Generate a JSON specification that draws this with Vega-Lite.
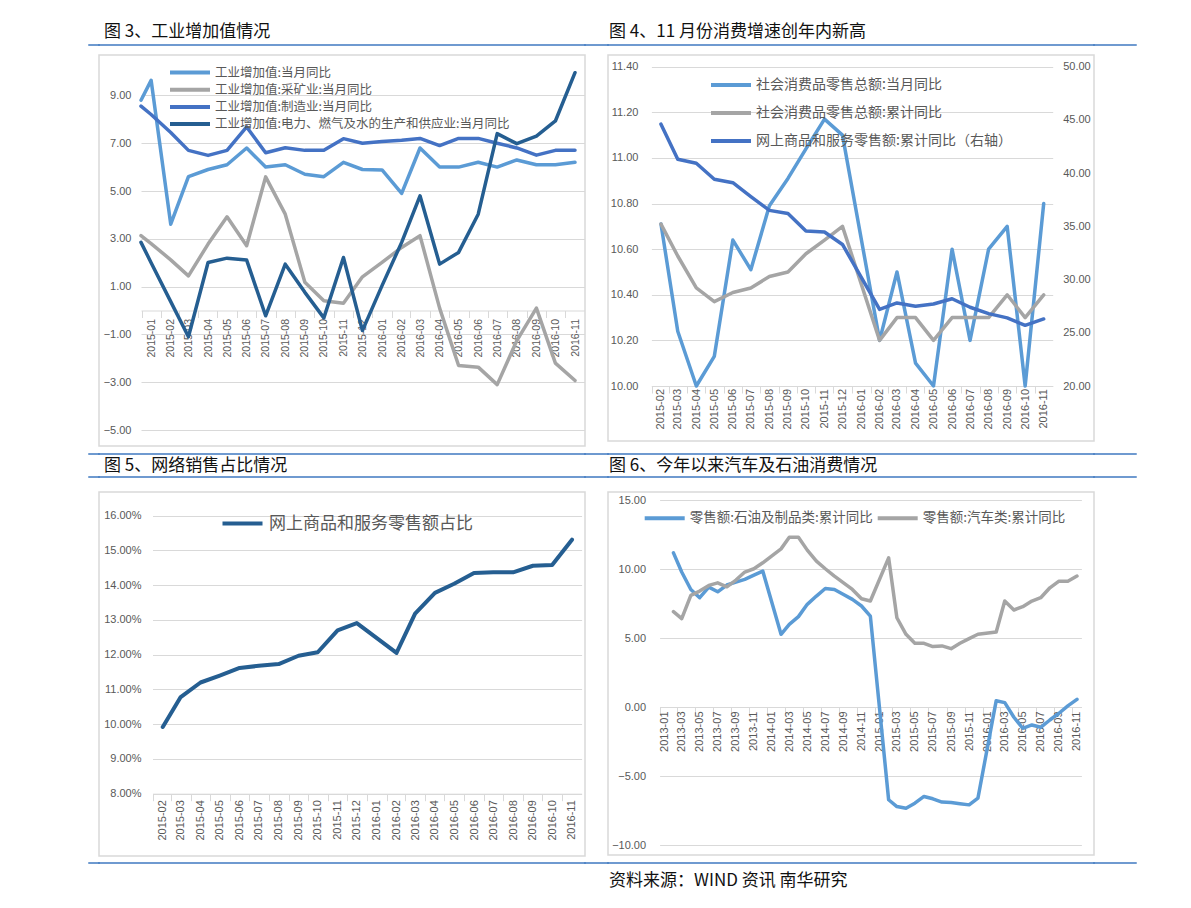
{
"$schema":"https://vega.github.io/schema/vega-lite/v6.json",
"background":"white",
"padding":{"left":88,"top":21,"right":0,"bottom":0},
"config":{
 "view":{"stroke":null},
 "font":"Liberation Sans",
 "axis":{"labelColor":"#595959","labelFont":"Liberation Sans","labelFontSize":11,"gridColor":"#d9d9d9","gridWidth":1,"domainColor":"#d9d9d9","domainWidth":1,"tickColor":"#d9d9d9","labelFlush":false,"labelOverlap":false},
 "legend":{"labelFont":"Noto Sans CJK SC","labelColor":"#595959","symbolType":"M-4,0H4","symbolSize":100,"symbolStrokeWidth":4,"labelOffset":18,"labelLimit":800,"padding":0},
 "title":{"anchor":"start","font":"Noto Sans CJK SC","fontSize":17,"fontWeight":"normal","color":"#111111","offset":-1.5,"frame":"group"},
 "line":{"strokeJoin":"round","strokeCap":"round","invalid":"filter"}
},
"datasets":{
 "fig3":[
  {"月份":"2014-12-16","工业增加值:当月同比":8.8,"工业增加值:采矿业:当月同比":3.13,"工业增加值:制造业:当月同比":8.55,"工业增加值:电力、燃气及水的生产和供应业:当月同比":2.85},
  {"月份":"2015-01-01","工业增加值:当月同比":9.63,"工业增加值:采矿业:当月同比":2.8,"工业增加值:制造业:当月同比":8.2,"工业增加值:电力、燃气及水的生产和供应业:当月同比":2.0},
  {"月份":"2015-02-01","工业增加值:当月同比":3.61,"工业增加值:采矿业:当月同比":2.12,"工业增加值:制造业:当月同比":7.45,"工业增加值:电力、燃气及水的生产和供应业:当月同比":0.37},
  {"月份":"2015-03-01","工业增加值:当月同比":5.6,"工业增加值:采矿业:当月同比":1.45,"工业增加值:制造业:当月同比":6.7,"工业增加值:电力、燃气及水的生产和供应业:当月同比":-1.1},
  {"月份":"2015-04-01","工业增加值:当月同比":5.9,"工业增加值:采矿业:当月同比":2.78,"工业增加值:制造业:当月同比":6.49,"工业增加值:电力、燃气及水的生产和供应业:当月同比":2.01},
  {"月份":"2015-05-01","工业增加值:当月同比":6.1,"工业增加值:采矿业:当月同比":3.92,"工业增加值:制造业:当月同比":6.7,"工业增加值:电力、燃气及水的生产和供应业:当月同比":2.19},
  {"月份":"2015-06-01","工业增加值:当月同比":6.8,"工业增加值:采矿业:当月同比":2.71,"工业增加值:制造业:当月同比":7.68,"工业增加值:电力、燃气及水的生产和供应业:当月同比":2.11},
  {"月份":"2015-07-01","工业增加值:当月同比":6.0,"工业增加值:采矿业:当月同比":5.59,"工业增加值:制造业:当月同比":6.6,"工业增加值:电力、燃气及水的生产和供应业:当月同比":-0.22},
  {"月份":"2015-08-01","工业增加值:当月同比":6.1,"工业增加值:采矿业:当月同比":4.03,"工业增加值:制造业:当月同比":6.81,"工业增加值:电力、燃气及水的生产和供应业:当月同比":1.94},
  {"月份":"2015-09-01","工业增加值:当月同比":5.7,"工业增加值:采矿业:当月同比":1.18,"工业增加值:制造业:当月同比":6.7,"工业增加值:电力、燃气及水的生产和供应业:当月同比":0.76},
  {"月份":"2015-10-01","工业增加值:当月同比":5.6,"工业增加值:采矿业:当月同比":0.41,"工业增加值:制造业:当月同比":6.7,"工业增加值:电力、燃气及水的生产和供应业:当月同比":-0.31},
  {"月份":"2015-11-01","工业增加值:当月同比":6.2,"工业增加值:采矿业:当月同比":0.3,"工业增加值:制造业:当月同比":7.19,"工业增加值:电力、燃气及水的生产和供应业:当月同比":2.22},
  {"月份":"2015-12-01","工业增加值:当月同比":5.9,"工业增加值:采矿业:当月同比":1.41,"工业增加值:制造业:当月同比":7.0,"工业增加值:电力、燃气及水的生产和供应业:当月同比":-0.84},
  {"月份":"2016-01-01","工业增加值:当月同比":5.88,"工业增加值:采矿业:当月同比":2.01,"工业增加值:制造业:当月同比":7.07,"工业增加值:电力、燃气及水的生产和供应业:当月同比":1.04},
  {"月份":"2016-02-01","工业增加值:当月同比":4.9,"工业增加值:采矿业:当月同比":2.64,"工业增加值:制造业:当月同比":7.12,"工业增加值:电力、燃气及水的生产和供应业:当月同比":2.85},
  {"月份":"2016-03-01","工业增加值:当月同比":6.8,"工业增加值:采矿业:当月同比":3.13,"工业增加值:制造业:当月同比":7.2,"工业增加值:电力、燃气及水的生产和供应业:当月同比":4.8},
  {"月份":"2016-04-01","工业增加值:当月同比":6.0,"工业增加值:采矿业:当月同比":0.1,"工业增加值:制造业:当月同比":6.9,"工业增加值:电力、燃气及水的生产和供应业:当月同比":1.94},
  {"月份":"2016-05-01","工业增加值:当月同比":6.0,"工业增加值:采矿业:当月同比":-2.3,"工业增加值:制造业:当月同比":7.2,"工业增加值:电力、燃气及水的生产和供应业:当月同比":2.43},
  {"月份":"2016-06-01","工业增加值:当月同比":6.2,"工业增加值:采矿业:当月同比":-2.37,"工业增加值:制造业:当月同比":7.2,"工业增加值:电力、燃气及水的生产和供应业:当月同比":4.03},
  {"月份":"2016-07-01","工业增加值:当月同比":6.0,"工业增加值:采矿业:当月同比":-3.1,"工业增加值:制造业:当月同比":7.0,"工业增加值:电力、燃气及水的生产和供应业:当月同比":7.4},
  {"月份":"2016-08-01","工业增加值:当月同比":6.3,"工业增加值:采矿业:当月同比":-1.26,"工业增加值:制造业:当月同比":6.8,"工业增加值:电力、燃气及水的生产和供应业:当月同比":6.98},
  {"月份":"2016-09-01","工业增加值:当月同比":6.1,"工业增加值:采矿业:当月同比":0.1,"工业增加值:制造业:当月同比":6.5,"工业增加值:电力、燃气及水的生产和供应业:当月同比":7.3},
  {"月份":"2016-10-01","工业增加值:当月同比":6.1,"工业增加值:采矿业:当月同比":-2.2,"工业增加值:制造业:当月同比":6.7,"工业增加值:电力、燃气及水的生产和供应业:当月同比":7.93},
  {"月份":"2016-11-01","工业增加值:当月同比":6.2,"工业增加值:采矿业:当月同比":-2.93,"工业增加值:制造业:当月同比":6.7,"工业增加值:电力、燃气及水的生产和供应业:当月同比":9.95}
 ],
 "fig4":[
  {"月份":"2015-02-01","社会消费品零售总额:当月同比":10.71,"社会消费品零售总额:累计同比":10.71,"网上商品和服务零售额:累计同比（右轴）":44.6},
  {"月份":"2015-03-01","社会消费品零售总额:当月同比":10.24,"社会消费品零售总额:累计同比":10.57,"网上商品和服务零售额:累计同比（右轴）":41.3},
  {"月份":"2015-04-01","社会消费品零售总额:当月同比":10.0,"社会消费品零售总额:累计同比":10.43,"网上商品和服务零售额:累计同比（右轴）":40.93},
  {"月份":"2015-05-01","社会消费品零售总额:当月同比":10.13,"社会消费品零售总额:累计同比":10.37,"网上商品和服务零售额:累计同比（右轴）":39.43},
  {"月份":"2015-06-01","社会消费品零售总额:当月同比":10.64,"社会消费品零售总额:累计同比":10.41,"网上商品和服务零售额:累计同比（右轴）":39.1},
  {"月份":"2015-07-01","社会消费品零售总额:当月同比":10.51,"社会消费品零售总额:累计同比":10.43,"网上商品和服务零售额:累计同比（右轴）":37.8},
  {"月份":"2015-08-01","社会消费品零售总额:当月同比":10.79,"社会消费品零售总额:累计同比":10.48,"网上商品和服务零售额:累计同比（右轴）":36.5},
  {"月份":"2015-09-01","社会消费品零售总额:当月同比":10.91,"社会消费品零售总额:累计同比":10.5,"网上商品和服务零售额:累计同比（右轴）":36.2},
  {"月份":"2015-10-01","社会消费品零售总额:当月同比":11.04,"社会消费品零售总额:累计同比":10.58,"网上商品和服务零售额:累计同比（右轴）":34.57},
  {"月份":"2015-11-01","社会消费品零售总额:当月同比":11.17,"社会消费品零售总额:累计同比":10.64,"网上商品和服务零售额:累计同比（右轴）":34.47},
  {"月份":"2015-12-01","社会消费品零售总额:当月同比":11.1,"社会消费品零售总额:累计同比":10.7,"网上商品和服务零售额:累计同比（右轴）":33.3},
  {"月份":"2016-02-01","社会消费品零售总额:当月同比":10.2,"社会消费品零售总额:累计同比":10.2,"网上商品和服务零售额:累计同比（右轴）":27.2},
  {"月份":"2016-03-01","社会消费品零售总额:当月同比":10.5,"社会消费品零售总额:累计同比":10.3,"网上商品和服务零售额:累计同比（右轴）":27.8},
  {"月份":"2016-04-01","社会消费品零售总额:当月同比":10.1,"社会消费品零售总额:累计同比":10.3,"网上商品和服务零售额:累计同比（右轴）":27.5},
  {"月份":"2016-05-01","社会消费品零售总额:当月同比":10.0,"社会消费品零售总额:累计同比":10.2,"网上商品和服务零售额:累计同比（右轴）":27.7},
  {"月份":"2016-06-01","社会消费品零售总额:当月同比":10.6,"社会消费品零售总额:累计同比":10.3,"网上商品和服务零售额:累计同比（右轴）":28.2},
  {"月份":"2016-07-01","社会消费品零售总额:当月同比":10.2,"社会消费品零售总额:累计同比":10.3,"网上商品和服务零售额:累计同比（右轴）":27.4},
  {"月份":"2016-08-01","社会消费品零售总额:当月同比":10.6,"社会消费品零售总额:累计同比":10.3,"网上商品和服务零售额:累计同比（右轴）":26.8},
  {"月份":"2016-09-01","社会消费品零售总额:当月同比":10.7,"社会消费品零售总额:累计同比":10.4,"网上商品和服务零售额:累计同比（右轴）":26.4},
  {"月份":"2016-10-01","社会消费品零售总额:当月同比":10.0,"社会消费品零售总额:累计同比":10.3,"网上商品和服务零售额:累计同比（右轴）":25.7},
  {"月份":"2016-11-01","社会消费品零售总额:当月同比":10.8,"社会消费品零售总额:累计同比":10.4,"网上商品和服务零售额:累计同比（右轴）":26.3}
 ],
 "fig5":[
  {"月份":"2015-02-01","网上商品和服务零售额占比":0.0992},
  {"月份":"2015-03-01","网上商品和服务零售额占比":0.1078},
  {"月份":"2015-04-01","网上商品和服务零售额占比":0.112},
  {"月份":"2015-05-01","网上商品和服务零售额占比":0.114},
  {"月份":"2015-06-01","网上商品和服务零售额占比":0.1162},
  {"月份":"2015-07-01","网上商品和服务零售额占比":0.1168},
  {"月份":"2015-08-01","网上商品和服务零售额占比":0.1173},
  {"月份":"2015-09-01","网上商品和服务零售额占比":0.1197},
  {"月份":"2015-10-01","网上商品和服务零售额占比":0.1207},
  {"月份":"2015-11-01","网上商品和服务零售额占比":0.127},
  {"月份":"2015-12-01","网上商品和服务零售额占比":0.1291},
  {"月份":"2016-02-01","网上商品和服务零售额占比":0.1205},
  {"月份":"2016-03-01","网上商品和服务零售额占比":0.1318},
  {"月份":"2016-04-01","网上商品和服务零售额占比":0.1378},
  {"月份":"2016-05-01","网上商品和服务零售额占比":0.1404},
  {"月份":"2016-06-01","网上商品和服务零售额占比":0.1435},
  {"月份":"2016-07-01","网上商品和服务零售额占比":0.1437},
  {"月份":"2016-08-01","网上商品和服务零售额占比":0.1437},
  {"月份":"2016-09-01","网上商品和服务零售额占比":0.1456},
  {"月份":"2016-10-01","网上商品和服务零售额占比":0.1458},
  {"月份":"2016-11-01","网上商品和服务零售额占比":0.1531}
 ],
 "fig6":[
  {"月份":"2013-02-01","零售额:石油及制品类:累计同比":11.19,"零售额:汽车类:累计同比":6.93},
  {"月份":"2013-03-01","零售额:石油及制品类:累计同比":9.8,"零售额:汽车类:累计同比":6.42},
  {"月份":"2013-04-01","零售额:石油及制品类:累计同比":8.54,"零售额:汽车类:累计同比":8.11},
  {"月份":"2013-05-01","零售额:石油及制品类:累计同比":7.94,"零售额:汽车类:累计同比":8.42},
  {"月份":"2013-06-01","零售额:石油及制品类:累计同比":8.71,"零售额:汽车类:累计同比":8.83},
  {"月份":"2013-07-01","零售额:石油及制品类:累计同比":8.37,"零售额:汽车类:累计同比":9.02},
  {"月份":"2013-08-01","零售额:石油及制品类:累计同比":8.86,"零售额:汽车类:累计同比":8.73},
  {"月份":"2013-09-01","零售额:石油及制品类:累计同比":9.07,"零售额:汽车类:累计同比":9.22},
  {"月份":"2013-10-01","零售额:石油及制品类:累计同比":9.27,"零售额:汽车类:累计同比":9.8},
  {"月份":"2013-11-01","零售额:石油及制品类:累计同比":9.58,"零售额:汽车类:累计同比":10.04},
  {"月份":"2013-12-01","零售额:石油及制品类:累计同比":9.87,"零售额:汽车类:累计同比":10.47},
  {"月份":"2014-02-01","零售额:石油及制品类:累计同比":5.29,"零售额:汽车类:累计同比":11.48},
  {"月份":"2014-03-01","零售额:石油及制品类:累计同比":6.01,"零售额:汽车类:累计同比":12.33},
  {"月份":"2014-04-01","零售额:石油及制品类:累计同比":6.57,"零售额:汽车类:累计同比":12.33},
  {"月份":"2014-05-01","零售额:石油及制品类:累计同比":7.46,"零售额:汽车类:累计同比":11.39},
  {"月份":"2014-06-01","零售额:石油及制品类:累计同比":8.06,"零售额:汽车类:累计同比":10.59},
  {"月份":"2014-07-01","零售额:石油及制品类:累计同比":8.61,"零售额:汽车类:累计同比":10.04},
  {"月份":"2014-08-01","零售额:石油及制品类:累计同比":8.54,"零售额:汽车类:累计同比":9.51},
  {"月份":"2014-09-01","零售额:石油及制品类:累计同比":8.18,"零售额:汽车类:累计同比":9.02},
  {"月份":"2014-10-01","零售额:石油及制品类:累计同比":7.82,"零售额:汽车类:累计同比":8.54},
  {"月份":"2014-11-01","零售额:石油及制品类:累计同比":7.34,"零售额:汽车类:累计同比":7.87},
  {"月份":"2014-12-01","零售额:石油及制品类:累计同比":6.61,"零售额:汽车类:累计同比":7.7},
  {"月份":"2015-02-01","零售额:石油及制品类:累计同比":-6.7,"零售额:汽车类:累计同比":10.83},
  {"月份":"2015-03-01","零售额:石油及制品类:累计同比":-7.19,"零售额:汽车类:累计同比":6.49},
  {"月份":"2015-04-01","零售额:石油及制品类:累计同比":-7.31,"零售额:汽车类:累计同比":5.29},
  {"月份":"2015-05-01","零售额:石油及制品类:累计同比":-6.95,"零售额:汽车类:累计同比":4.64},
  {"月份":"2015-06-01","零售额:石油及制品类:累计同比":-6.46,"零售额:汽车类:累计同比":4.64},
  {"月份":"2015-07-01","零售额:石油及制品类:累计同比":-6.63,"零售额:汽车类:累计同比":4.4},
  {"月份":"2015-08-01","零售额:石油及制品类:累计同比":-6.87,"零售额:汽车类:累计同比":4.45},
  {"月份":"2015-09-01","零售额:石油及制品类:累计同比":-6.9,"零售额:汽车类:累计同比":4.25},
  {"月份":"2015-10-01","零售额:石油及制品类:累计同比":-6.99,"零售额:汽车类:累计同比":4.64},
  {"月份":"2015-11-01","零售额:石油及制品类:累计同比":-7.07,"零售额:汽车类:累计同比":4.98},
  {"月份":"2015-12-01","零售额:石油及制品类:累计同比":-6.58,"零售额:汽车类:累计同比":5.29},
  {"月份":"2016-02-01","零售额:石油及制品类:累计同比":0.48,"零售额:汽车类:累计同比":5.46},
  {"月份":"2016-03-01","零售额:石油及制品类:累计同比":0.34,"零售额:汽车类:累计同比":7.7},
  {"月份":"2016-04-01","零售额:石油及制品类:累计同比":-0.72,"零售额:汽车类:累计同比":7.05},
  {"月份":"2016-05-01","零售额:石油及制品类:累计同比":-1.52,"零售额:汽车类:累计同比":7.29},
  {"月份":"2016-06-01","零售额:石油及制品类:累计同比":-1.28,"零售额:汽车类:累计同比":7.7},
  {"月份":"2016-07-01","零售额:石油及制品类:累计同比":-1.45,"零售额:汽车类:累计同比":7.94},
  {"月份":"2016-08-01","零售额:石油及制品类:累计同比":-0.92,"零售额:汽车类:累计同比":8.66},
  {"月份":"2016-09-01","零售额:石油及制品类:累计同比":-0.43,"零售额:汽车类:累计同比":9.14},
  {"月份":"2016-10-01","零售额:石油及制品类:累计同比":0.1,"零售额:汽车类:累计同比":9.14},
  {"月份":"2016-11-01","零售额:石油及制品类:累计同比":0.58,"零售额:汽车类:累计同比":9.51}
 ]
},
"columns":5,"spacing":0,"bounds":"flush","align":"each",
"resolve":{"scale":{"color":"independent"},"legend":{"color":"independent"}},
"concat":[
 {"width":10,"height":0.01,"view":{"stroke":"#3f79c0","strokeWidth":1.5},"data":{"values":[{}]},"mark":"text","encoding":{"text":{"value":""}}},
 {"width":486,"height":0.01,"view":{"stroke":"#3f79c0","strokeWidth":1.5},"title":{"text":"图 3、工业增加值情况","dx":5},"data":{"values":[{}]},"mark":"text","encoding":{"text":{"value":""}}},
 {"width":23,"height":0.01,"view":{"stroke":"#3f79c0","strokeWidth":1.5},"data":{"values":[{}]},"mark":"text","encoding":{"text":{"value":""}}},
 {"width":486,"height":0.01,"view":{"stroke":"#3f79c0","strokeWidth":1.5},"title":{"text":"图 4、11 月份消费增速创年内新高","dx":1},"data":{"values":[{}]},"mark":"text","encoding":{"text":{"value":""}}},
 {"width":42,"height":0.01,"view":{"stroke":"#3f79c0","strokeWidth":1.5},"data":{"values":[{}]},"mark":"text","encoding":{"text":{"value":""}}},

 {"width":0.01,"height":9,"data":{"values":[{}]},"mark":"text","encoding":{"text":{"value":""}}},
 {"width":0.01,"height":0.01,"data":{"values":[{}]},"mark":"text","encoding":{"text":{"value":""}}},
 {"width":0.01,"height":0.01,"data":{"values":[{}]},"mark":"text","encoding":{"text":{"value":""}}},
 {"width":0.01,"height":0.01,"data":{"values":[{}]},"mark":"text","encoding":{"text":{"value":""}}},
 {"width":0.01,"height":0.01,"data":{"values":[{}]},"mark":"text","encoding":{"text":{"value":""}}},

 {"width":0.01,"height":0.01,"data":{"values":[{}]},"mark":"text","encoding":{"text":{"value":""}}},
 {"width":486,"height":391,"view":{"stroke":"#d9d9d9","strokeWidth":1.5},
  "data":{"name":"fig3"},
  "transform":[{"fold":["工业增加值:当月同比","工业增加值:采矿业:当月同比","工业增加值:制造业:当月同比","工业增加值:电力、燃气及水的生产和供应业:当月同比"],"as":["系列","值"]}],
  "mark":{"type":"line","strokeWidth":3.5},
  "encoding":{
   "x":{"field":"月份","type":"temporal","scale":{"type":"utc","domain":[{"year":2014,"month":12,"date":16,"utc":true},{"year":2016,"month":11,"date":16,"utc":true}],"range":[42,485.5],"nice":false},
        "axis":{"title":null,"offset":-135.5,"format":"%Y-%m","tickCount":{"interval":"month","step":1},"labelAngle":-90,"grid":false,"tickSize":7,"tickOffset":-9.6,"labelOffset":9.6,"labelPadding":1,"labelFontSize":10.5}},
   "y":{"field":"值","type":"quantitative","scale":{"domain":[-5,10],"range":[375,16.5],"nice":false,"zero":false},
        "axis":{"title":null,"values":[-5,-3,-1,1,3,5,7,9],"format":".2f","offset":-42,"domain":false,"ticks":false,"tickSize":0,"labelPadding":10}},
   "color":{"field":"系列","type":"nominal","scale":{"domain":["工业增加值:当月同比","工业增加值:采矿业:当月同比","工业增加值:制造业:当月同比","工业增加值:电力、燃气及水的生产和供应业:当月同比"],"range":["#5b9bd5","#a5a5a5","#4472c4","#255e91"]},
        "legend":{"title":null,"orient":"none","legendX":84,"legendY":10.5,"labelFontSize":12.5,"rowPadding":3.2,"columns":1}}
  }},
 {"width":0.01,"height":0.01,"data":{"values":[{}]},"mark":"text","encoding":{"text":{"value":""}}},
 {"width":486,"height":386,"view":{"stroke":"#d9d9d9","strokeWidth":1.5},
  "data":{"name":"fig4"},
  "transform":[{"fold":["社会消费品零售总额:当月同比","社会消费品零售总额:累计同比","网上商品和服务零售额:累计同比（右轴）"],"as":["系列","值"]}],
  "encoding":{
   "x":{"field":"月份","type":"temporal","scale":{"type":"utc","domain":[{"year":2015,"month":1,"date":16,"utc":true},{"year":2016,"month":11,"date":16,"utc":true}],"range":[43.4,444.7],"nice":false},
        "axis":{"title":null,"offset":-55,"format":"%Y-%m","tickCount":{"interval":"month","step":1},"labelAngle":-90,"grid":false,"tickSize":7,"tickOffset":-9.1,"labelOffset":9.1,"labelPadding":-4.5}},
   "color":{"field":"系列","type":"nominal","scale":{"domain":["社会消费品零售总额:当月同比","社会消费品零售总额:累计同比","网上商品和服务零售额:累计同比（右轴）"],"range":["#5b9bd5","#a5a5a5","#4472c4"]},
        "legend":{"title":null,"orient":"none","legendX":116,"legendY":23,"labelFontSize":14,"rowPadding":14,"columns":1}}
  },
  "layer":[
   {"transform":[{"filter":{"field":"系列","oneOf":["社会消费品零售总额:当月同比","社会消费品零售总额:累计同比"]}}],
    "mark":{"type":"line","strokeWidth":3.5},
    "encoding":{"y":{"field":"值","type":"quantitative","scale":{"domain":[10,11.4],"range":[331,11.7],"nice":false,"zero":false},
       "axis":{"title":null,"values":[10,10.2,10.4,10.6,10.8,11,11.2,11.4],"format":".2f","offset":-43.4,"domain":false,"ticks":false,"tickSize":0,"labelPadding":13.5}}}},
   {"transform":[{"filter":{"field":"系列","equal":"网上商品和服务零售额:累计同比（右轴）"}}],
    "mark":{"type":"line","strokeWidth":3.5},
    "encoding":{"y":{"field":"值","type":"quantitative","scale":{"domain":[20,50],"range":[331,11.7],"nice":false,"zero":false},
       "axis":{"title":null,"orient":"right","values":[20,25,30,35,40,45,50],"format":".2f","offset":-41.3,"grid":false,"domain":false,"ticks":false,"tickSize":0,"labelPadding":10}}}}
  ],
  "resolve":{"scale":{"y":"independent"}}},
 {"width":0.01,"height":0.01,"data":{"values":[{}]},"mark":"text","encoding":{"text":{"value":""}}},

 {"width":0.01,"height":7.5,"data":{"values":[{}]},"mark":"text","encoding":{"text":{"value":""}}},
 {"width":0.01,"height":0.01,"data":{"values":[{}]},"mark":"text","encoding":{"text":{"value":""}}},
 {"width":0.01,"height":0.01,"data":{"values":[{}]},"mark":"text","encoding":{"text":{"value":""}}},
 {"width":0.01,"height":0.01,"data":{"values":[{}]},"mark":"text","encoding":{"text":{"value":""}}},
 {"width":0.01,"height":0.01,"data":{"values":[{}]},"mark":"text","encoding":{"text":{"value":""}}},

 {"width":10,"height":0.01,"view":{"stroke":"#3f79c0","strokeWidth":1.5},"data":{"values":[{}]},"mark":"text","encoding":{"text":{"value":""}}},
 {"width":486,"height":0.01,"view":{"stroke":"#3f79c0","strokeWidth":1.5},"data":{"values":[{}]},"mark":"text","encoding":{"text":{"value":""}}},
 {"width":23,"height":0.01,"view":{"stroke":"#3f79c0","strokeWidth":1.5},"data":{"values":[{}]},"mark":"text","encoding":{"text":{"value":""}}},
 {"width":486,"height":0.01,"view":{"stroke":"#3f79c0","strokeWidth":1.5},"data":{"values":[{}]},"mark":"text","encoding":{"text":{"value":""}}},
 {"width":42,"height":0.01,"view":{"stroke":"#3f79c0","strokeWidth":1.5},"data":{"values":[{}]},"mark":"text","encoding":{"text":{"value":""}}},

 {"width":0.01,"height":21.5,"data":{"values":[{}]},"mark":"text","encoding":{"text":{"value":""}}},
 {"width":0.01,"height":0.01,"data":{"values":[{}]},"mark":"text","encoding":{"text":{"value":""}}},
 {"width":0.01,"height":0.01,"data":{"values":[{}]},"mark":"text","encoding":{"text":{"value":""}}},
 {"width":0.01,"height":0.01,"data":{"values":[{}]},"mark":"text","encoding":{"text":{"value":""}}},
 {"width":0.01,"height":0.01,"data":{"values":[{}]},"mark":"text","encoding":{"text":{"value":""}}},

 {"width":10,"height":0.01,"view":{"stroke":"#3f79c0","strokeWidth":1.5},"data":{"values":[{}]},"mark":"text","encoding":{"text":{"value":""}}},
 {"width":486,"height":0.01,"view":{"stroke":"#3f79c0","strokeWidth":1.5},"title":{"text":"图 5、网络销售占比情况","dx":5,"offset":-4},"data":{"values":[{}]},"mark":"text","encoding":{"text":{"value":""}}},
 {"width":23,"height":0.01,"view":{"stroke":"#3f79c0","strokeWidth":1.5},"data":{"values":[{}]},"mark":"text","encoding":{"text":{"value":""}}},
 {"width":486,"height":0.01,"view":{"stroke":"#3f79c0","strokeWidth":1.5},"title":{"text":"图 6、今年以来汽车及石油消费情况","dx":1,"offset":-4},"data":{"values":[{}]},"mark":"text","encoding":{"text":{"value":""}}},
 {"width":42,"height":0.01,"view":{"stroke":"#3f79c0","strokeWidth":1.5},"data":{"values":[{}]},"mark":"text","encoding":{"text":{"value":""}}},

 {"width":0.01,"height":13.5,"data":{"values":[{}]},"mark":"text","encoding":{"text":{"value":""}}},
 {"width":0.01,"height":0.01,"data":{"values":[{}]},"mark":"text","encoding":{"text":{"value":""}}},
 {"width":0.01,"height":0.01,"data":{"values":[{}]},"mark":"text","encoding":{"text":{"value":""}}},
 {"width":0.01,"height":0.01,"data":{"values":[{}]},"mark":"text","encoding":{"text":{"value":""}}},
 {"width":0.01,"height":0.01,"data":{"values":[{}]},"mark":"text","encoding":{"text":{"value":""}}},

 {"width":0.01,"height":0.01,"data":{"values":[{}]},"mark":"text","encoding":{"text":{"value":""}}},
 {"width":486,"height":364,"view":{"stroke":"#d9d9d9","strokeWidth":1.5},
  "data":{"name":"fig5"},
  "transform":[{"fold":["网上商品和服务零售额占比"],"as":["系列","值"]}],
  "mark":{"type":"line","strokeWidth":4},
  "encoding":{
   "x":{"field":"月份","type":"temporal","scale":{"type":"utc","domain":[{"year":2015,"month":1,"date":16,"utc":true},{"year":2016,"month":11,"date":16,"utc":true}],"range":[53.5,482.6],"nice":false},
        "axis":{"title":null,"offset":-62.3,"format":"%Y-%m","tickCount":{"interval":"month","step":1},"labelAngle":-90,"grid":false,"tickSize":7,"tickOffset":-9.7,"labelOffset":9.7,"labelPadding":-1}},
   "y":{"field":"值","type":"quantitative","scale":{"domain":[0.08,0.16],"range":[301.7,23.7],"nice":false,"zero":false},
        "axis":{"title":null,"values":[0.08,0.09,0.1,0.11,0.12,0.13,0.14,0.15,0.16],"format":".2%","offset":-53.5,"domain":false,"ticks":false,"tickSize":0,"labelPadding":11.5}},
   "color":{"field":"系列","type":"nominal","scale":{"range":["#255e91"]},
        "legend":{"title":null,"orient":"none","legendX":135,"legendY":23,"labelFontSize":17}}
  }},
 {"width":0.01,"height":0.01,"data":{"values":[{}]},"mark":"text","encoding":{"text":{"value":""}}},
 {"width":486,"height":363,"view":{"stroke":"#d9d9d9","strokeWidth":1.5},
  "data":{"name":"fig6"},
  "transform":[{"fold":["零售额:石油及制品类:累计同比","零售额:汽车类:累计同比"],"as":["系列","值"]}],
  "mark":{"type":"line","strokeWidth":3.5},
  "encoding":{
   "x":{"field":"月份","type":"temporal","scale":{"type":"utc","domain":[{"year":2012,"month":12,"date":16,"utc":true},{"year":2016,"month":11,"date":16,"utc":true}],"range":[51.6,473.4],"nice":false},
        "axis":{"title":null,"offset":-148,"format":"%Y-%m","tickCount":{"interval":"month","step":2},"labelAngle":-90,"grid":false,"tickSize":7,"tickOffset":-4.5,"labelOffset":4.5,"labelPadding":-3}},
   "y":{"field":"值","type":"quantitative","scale":{"domain":[-10,15],"range":[353.3,8.3],"nice":false,"zero":false},
        "axis":{"title":null,"values":[-10,-5,0,5,10,15],"format":".2f","offset":-51.6,"domain":false,"ticks":false,"tickSize":0,"labelPadding":14}},
   "color":{"field":"系列","type":"nominal","scale":{"domain":["零售额:石油及制品类:累计同比","零售额:汽车类:累计同比"],"range":["#5b9bd5","#a5a5a5"]},
        "legend":{"title":null,"orient":"none","legendX":49.7,"legendY":19,"labelFontSize":13.5,"direction":"horizontal","columns":2,"columnPadding":2}}
  }},
 {"width":0.01,"height":0.01,"data":{"values":[{}]},"mark":"text","encoding":{"text":{"value":""}}},

 {"width":0.01,"height":7,"data":{"values":[{}]},"mark":"text","encoding":{"text":{"value":""}}},
 {"width":0.01,"height":0.01,"data":{"values":[{}]},"mark":"text","encoding":{"text":{"value":""}}},
 {"width":0.01,"height":0.01,"data":{"values":[{}]},"mark":"text","encoding":{"text":{"value":""}}},
 {"width":0.01,"height":0.01,"data":{"values":[{}]},"mark":"text","encoding":{"text":{"value":""}}},
 {"width":0.01,"height":0.01,"data":{"values":[{}]},"mark":"text","encoding":{"text":{"value":""}}},

 {"width":10,"height":0.01,"view":{"stroke":"#3f79c0","strokeWidth":1.5},"data":{"values":[{}]},"mark":"text","encoding":{"text":{"value":""}}},
 {"width":486,"height":0.01,"view":{"stroke":"#3f79c0","strokeWidth":1.5},"data":{"values":[{}]},"mark":"text","encoding":{"text":{"value":""}}},
 {"width":23,"height":0.01,"view":{"stroke":"#3f79c0","strokeWidth":1.5},"data":{"values":[{}]},"mark":"text","encoding":{"text":{"value":""}}},
 {"width":486,"height":0.01,"view":{"stroke":"#3f79c0","strokeWidth":1.5},"title":{"text":"资料来源：WIND 资讯 南华研究","orient":"bottom","dx":1,"offset":5},"data":{"values":[{}]},"mark":"text","encoding":{"text":{"value":""}}},
 {"width":42,"height":0.01,"view":{"stroke":"#3f79c0","strokeWidth":1.5},"data":{"values":[{}]},"mark":"text","encoding":{"text":{"value":""}}}
]
}
